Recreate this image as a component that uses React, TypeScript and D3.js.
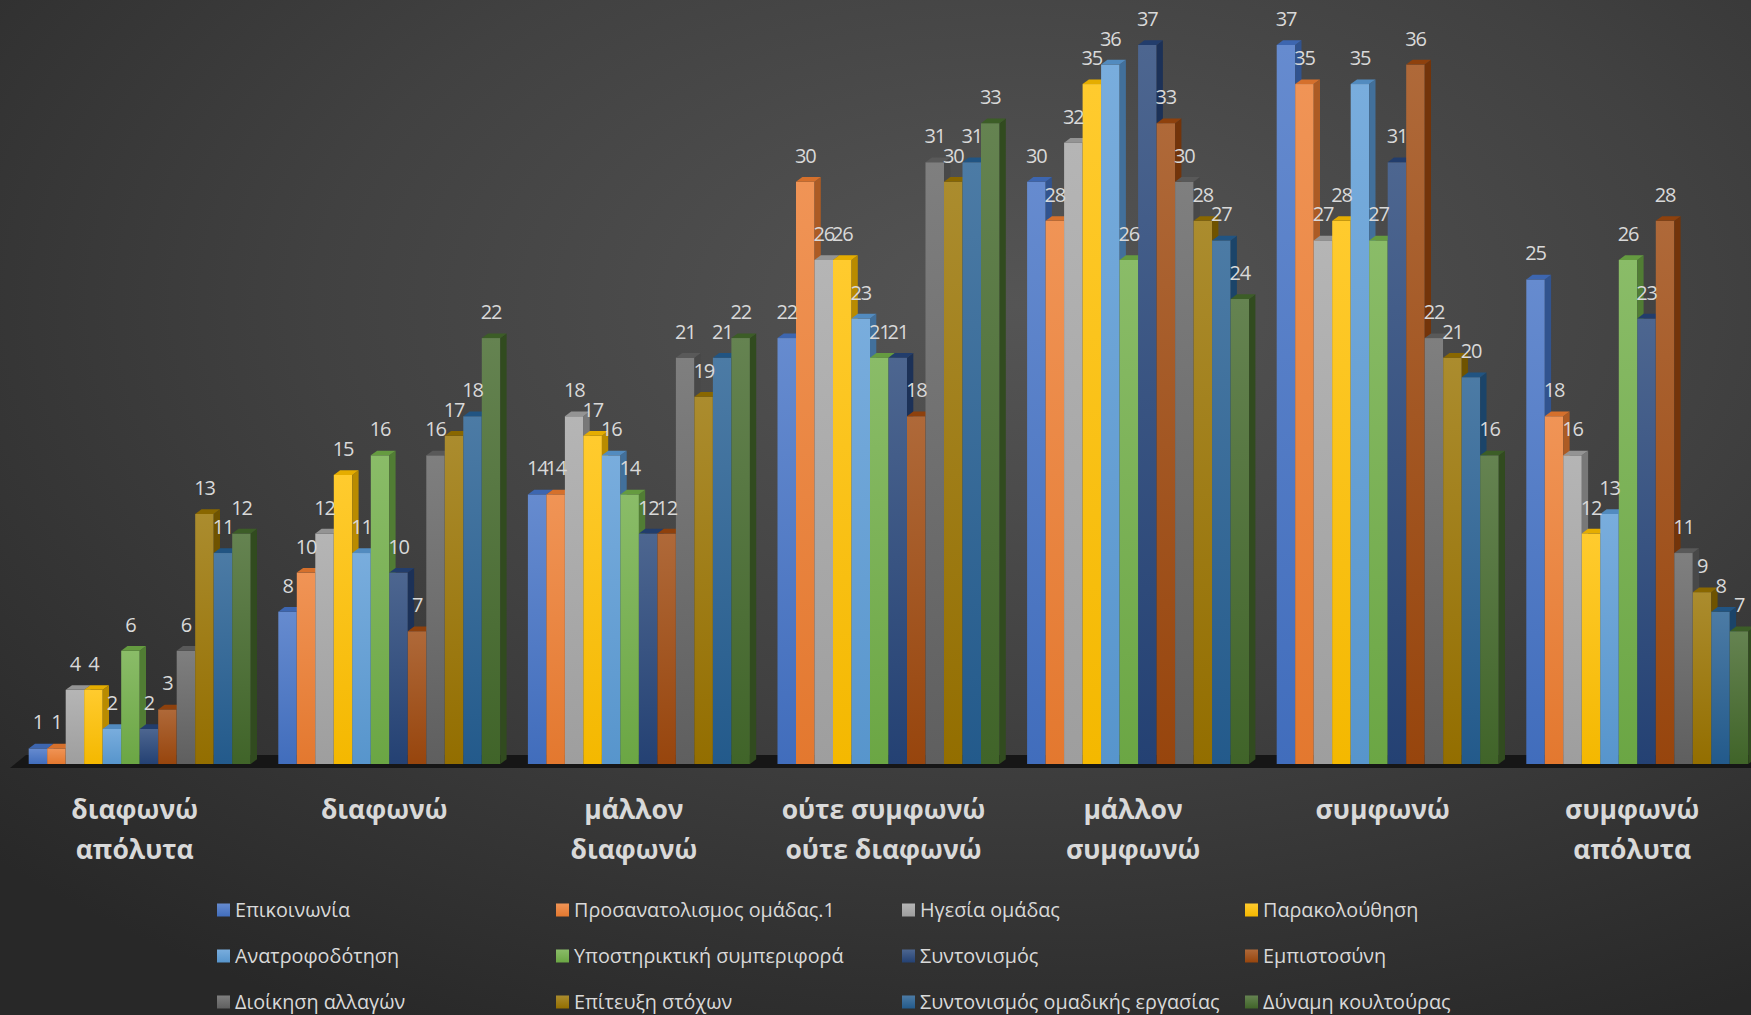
import React from "react";
import * as d3 from "d3";

const W = 1751;
const H = 1015;

const categories = [
  "διαφωνώ απόλυτα",
  "διαφωνώ",
  "μάλλον διαφωνώ",
  "ούτε συμφωνώ ούτε διαφωνώ",
  "μάλλον συμφωνώ",
  "συμφωνώ",
  "συμφωνώ απόλυτα",
];
const categoryLines = [
  ["διαφωνώ", "απόλυτα"],
  ["διαφωνώ"],
  ["μάλλον", "διαφωνώ"],
  ["ούτε συμφωνώ", "ούτε διαφωνώ"],
  ["μάλλον", "συμφωνώ"],
  ["συμφωνώ"],
  ["συμφωνώ", "απόλυτα"],
];

const seriesNames = [
  "Επικοινωνία",
  "Προσανατολισμος ομάδας.1",
  "Ηγεσία ομάδας",
  "Παρακολούθηση",
  "Ανατροφοδότηση",
  "Υποστηρικτική συμπεριφορά",
  "Συντονισμός",
  "Εμπιστοσύνη",
  "Διοίκηση αλλαγών",
  "Επίτευξη στόχων",
  "Συντονισμός ομαδικής εργασίας",
  "Δύναμη κουλτούρας",
];
const seriesColors = [
  "#4472C4", "#ED7D31", "#A5A5A5", "#FFC000",
  "#5B9BD5", "#70AD47", "#264478", "#9E480E",
  "#636363", "#997300", "#255E91", "#43682B",
];

// values per category (rows) for each series (columns)
const valuesDiafonoApolyta = [1, 1, 4, 4, 2, 6, 2, 3, 6, 13, 11, 12];
const valuesDiafono = [8, 10, 12, 15, 11, 16, 10, 7, 16, 17, 18, 22];
const valuesMallonDiafono = [14, 14, 18, 17, 16, 14, 12, 12, 21, 19, 21, 22];
const valuesOute = [22, 30, 26, 26, 23, 21, 21, 18, 31, 30, 31, 33];
const valuesMallonSymfono = [30, 28, 32, 35, 36, 26, 37, 33, 30, 28, 27, 24];
const valuesSymfono = [37, 35, 27, 28, 35, 27, 31, 36, 22, 21, 20, 16];
const valuesSymfonoApolyta = [25, 18, 16, 12, 13, 26, 23, 28, 11, 9, 8, 7];

const table = [
  valuesDiafonoApolyta,
  valuesDiafono,
  valuesMallonDiafono,
  valuesOute,
  valuesMallonSymfono,
  valuesSymfono,
  valuesSymfonoApolyta,
];

const FONT = "'Open Sans', 'Noto Sans', sans-serif";

export default function App() {
  const x0 = d3
    .scaleBand<string>()
    .domain(categories)
    .range([14.9, 14.9 + 7 * 249.6])
    .paddingInner(0.1106)
    .paddingOuter(0.0553);
  const x1 = d3
    .scaleBand<string>()
    .domain(seriesNames)
    .range([0, x0.bandwidth()]);
  const y = d3.scaleLinear().domain([0, 37]).range([768, 45]);
  const base = 764;
  const dx = 6.3;
  const dy = -4.7;
  const bw = x1.bandwidth();

  const bars: JSX.Element[] = [];
  const labels: JSX.Element[] = [];
  categories.forEach((c, ci) => {
    seriesNames.forEach((s, si) => {
      const v = table[ci][si];
      const xl = (x0(c) as number) + (x1(s) as number);
      const yt = y(v);
      const col = d3.color(seriesColors[si])!;
      const side = col.darker(0.9).formatHex();
      const topc = col.darker(0.3).formatHex();
      bars.push(
        <g key={`b-${ci}-${si}`}>
          <rect x={xl} y={yt} width={bw} height={base - yt} fill={`url(#g${si})`} />
          <polygon
            points={`${xl + bw},${yt} ${xl + bw + dx},${yt + dy} ${xl + bw + dx},${base + dy} ${xl + bw},${base}`}
            fill={side}
          />
          <polygon
            points={`${xl},${yt} ${xl + dx},${yt + dy} ${xl + bw + dx},${yt + dy} ${xl + bw},${yt}`}
            fill={topc}
          />
        </g>
      );
      labels.push(
        <text
          key={`l-${ci}-${si}`}
          x={xl + bw / 2}
          y={yt - 19}
          textAnchor="middle"
          fontFamily={FONT}
          fontSize={20}
          letterSpacing={-1.2}
          fill="#d9d9d9"
        >
          {v}
        </text>
      );
    });
  });

  const legendCols = [217, 556, 902, 1245];
  const legendRows = [910, 956, 1002];

  return (
    <svg
      width={W}
      height={H}
      viewBox={`0 0 ${W} ${H}`}
      style={{ position: "absolute", left: 0, top: 0, display: "block" }}
    >
      <defs>
        <radialGradient id="bg" cx="0.58" cy="0.3" r="0.8" gradientUnits="objectBoundingBox">
          <stop offset="0" stopColor="#555555" />
          <stop offset="0.5" stopColor="#414141" />
          <stop offset="1" stopColor="#282828" />
        </radialGradient>
        {seriesColors.map((c, i) => (
          <linearGradient key={i} id={`g${i}`} x1="0" y1="0" x2="0" y2="1">
            <stop offset="0" stopColor={d3.interpolateRgb(c, "#ffffff")(0.18)} />
            <stop offset="1" stopColor={d3.color(c)!.darker(0.12).formatHex()} />
          </linearGradient>
        ))}
      </defs>
      <rect x={0} y={0} width={W} height={H} fill="url(#bg)" />
      {/* floor */}
      <polygon points={`10,768 26,755 ${W},755 ${W},768`} fill="#161616" />
      {bars}
      {labels}
      {categoryLines.map((lines, ci) => {
        const cx = (x0(categories[ci]) as number) + x0.bandwidth() / 2 - 5;
        return (
          <text
            key={`c-${ci}`}
            textAnchor="middle"
            fontFamily={FONT}
            fontWeight="bold"
            fontSize={26.5}
            fill="#d9d9d9"
          >
            {lines.map((ln, li) => (
              <tspan key={li} x={cx} y={819 + li * 40}>
                {ln}
              </tspan>
            ))}
          </text>
        );
      })}
      {seriesNames.map((s, i) => {
        const lx = legendCols[i % 4];
        const ly = legendRows[Math.floor(i / 4)];
        return (
          <g key={`lg-${i}`}>
            <rect x={lx} y={ly - 6.5} width={13} height={13} fill={`url(#g${i})`} />
            <text
              x={lx + 18}
              y={ly + 7}
              fontFamily={FONT}
              fontSize={19.8}
              fill="#d9d9d9"
            >
              {s}
            </text>
          </g>
        );
      })}
    </svg>
  );
}
